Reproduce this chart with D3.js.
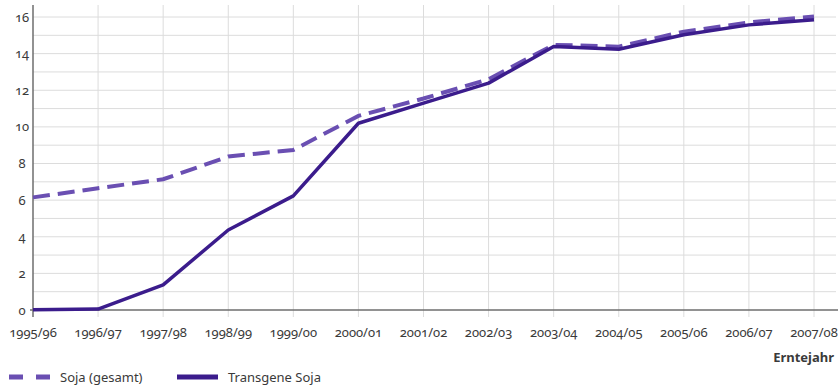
<!DOCTYPE html>
<html>
<head>
<meta charset="utf-8">
<script src="https://cdn.jsdelivr.net/npm/d3@7"></script>
<style>
  html, body { margin: 0; padding: 0; background: #fff; }
  svg { display: block; font-family: "Noto Sans", "Open Sans", sans-serif; font-variant-numeric: oldstyle-nums; }
</style>
</head>
<body>
<svg id="chart" width="839" height="391"></svg>
<script>
// Erntejahre
const years = ["1995/96","1996/97","1997/98","1998/99","1999/00","2000/01","2001/02",
               "2002/03","2003/04","2004/05","2005/06","2006/07","2007/08"];
// Soja insgesamt
const sojaGesamt = [6.15, 6.65, 7.14, 8.38, 8.74, 10.6, 11.55, 12.6, 14.48, 14.38, 15.2, 15.7, 16.03];
// Transgene Soja
const sojaTransgen = [0.02, 0.05, 1.37, 4.37, 6.23, 10.2, 11.3, 12.39, 14.39, 14.24, 15.03, 15.57, 15.85];
const yTicks = [0, 2, 4, 6, 8, 10, 12, 14, 16];
const yMinor = d3.range(0, 17, 1);
const legendLabels = ["Soja (gesamt)", "Transgene Soja"];

const svg = d3.select("#chart");
const plotLeft = 33, plotRight = 814, plotTop = 17, plotBottom = 310;

const x = d3.scalePoint().domain(years).range([plotLeft, plotRight]);
const y = d3.scaleLinear().domain([0, 16]).range([plotBottom, plotTop]);

const gridColor = "#dcdcdc";
const textColor = "#3a3a3a";

// horizontal grid (every unit)
svg.append("g").selectAll("line").data(yMinor.filter(v => v > 0)).join("line")
  .attr("x1", plotLeft).attr("x2", 836)
  .attr("y1", d => y(d)).attr("y2", d => y(d))
  .attr("stroke", gridColor).attr("stroke-width", 1);

// vertical grid, reaching a little below the baseline
svg.append("g").selectAll("line").data(years.slice(1)).join("line")
  .attr("x1", d => x(d)).attr("x2", d => x(d))
  .attr("y1", 5).attr("y2", plotBottom + 7)
  .attr("stroke", gridColor).attr("stroke-width", 1);

// axes lines
svg.append("line").attr("x1", plotLeft).attr("x2", plotLeft).attr("y1", 5).attr("y2", plotBottom + 7)
  .attr("stroke", "#6e6e6e").attr("stroke-width", 1.5);
svg.append("line").attr("x1", 30).attr("x2", 838).attr("y1", plotBottom).attr("y2", plotBottom)
  .attr("stroke", "#6e6e6e").attr("stroke-width", 1.5);

// y tick labels
svg.append("g").selectAll("text").data(yTicks).join("text")
  .attr("x", 22).attr("y", d => y(d)).attr("dy", "0.35em")
  .attr("text-anchor", "middle").attr("font-size", 13).attr("fill", textColor)
  .text(d => d);

// x tick labels
svg.append("g").selectAll("text").data(years).join("text")
  .attr("x", d => x(d)).attr("y", 337)
  .attr("text-anchor", "middle").attr("font-size", 13).attr("fill", textColor)
  .text(d => d);

svg.append("text").attr("x", 834).attr("y", 362).attr("text-anchor", "end")
  .attr("font-size", 13).attr("font-weight", "bold").attr("fill", textColor)
  .text("Erntejahr");

const line = d3.line().x((d, i) => x(years[i])).y(d => y(d));

const dashedColor = "#6a4fb2";
const solidColor = "#3b1c8c";

svg.append("path").datum(sojaGesamt).attr("d", line)
  .attr("fill", "none").attr("stroke", dashedColor).attr("stroke-width", 4)
  .attr("stroke-dasharray", "17 8");

svg.append("path").datum(sojaTransgen).attr("d", line)
  .attr("fill", "none").attr("stroke", solidColor).attr("stroke-width", 3.5)
  .attr("stroke-linejoin", "round");

// legend
const lg = svg.append("g");
lg.append("line").attr("x1", 9).attr("x2", 50).attr("y1", 377).attr("y2", 377)
  .attr("stroke", dashedColor).attr("stroke-width", 5).attr("stroke-dasharray", "14 13");
lg.append("text").attr("x", 60).attr("y", 382).attr("font-size", 13).attr("fill", textColor)
  .text(legendLabels[0]);
lg.append("line").attr("x1", 177).attr("x2", 218).attr("y1", 377).attr("y2", 377)
  .attr("stroke", solidColor).attr("stroke-width", 5);
lg.append("text").attr("x", 228).attr("y", 382).attr("font-size", 13).attr("fill", textColor)
  .text(legendLabels[1]);
</script>
</body>
</html>
